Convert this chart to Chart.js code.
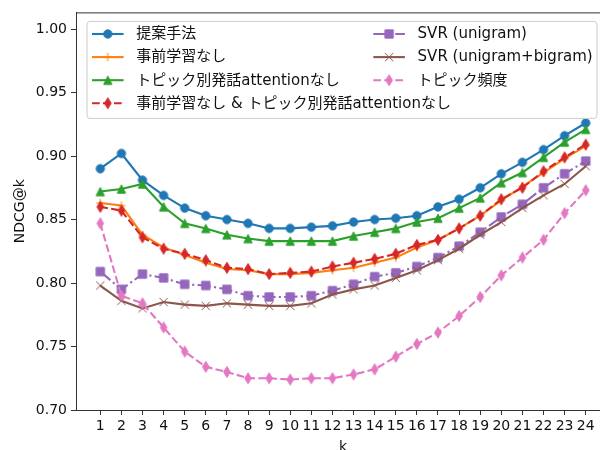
<!DOCTYPE html>
<html>
<head>
<meta charset="utf-8">
<script src="https://cdn.jsdelivr.net/npm/chart.js"></script>
<style>
  html, body { margin: 0; padding: 0; overflow: hidden; background: #fff; }
  #wrap { position: absolute; left: 0; top: 0; width: 620px; height: 460px; }
</style>
</head>
<body>
<div id="wrap"><canvas id="ndcgChart"></canvas></div>
<script>
// k values and tick labels
const ks = [1, 2, 3, 4, 5, 6, 7, 8, 9, 10, 11, 12, 13, 14, 15, 16, 17, 18, 19, 20, 21, 22, 23, 24];
const yTicks = [0.70, 0.75, 0.80, 0.85, 0.90, 0.95, 1.00];

// NDCG@k per method
const proposed = [0.890, 0.902, 0.881, 0.869, 0.859, 0.853, 0.850, 0.847, 0.843, 0.843, 0.844, 0.845,
                  0.848, 0.850, 0.851, 0.853, 0.860, 0.866, 0.875, 0.886, 0.895, 0.905, 0.916, 0.926];
const noPretrain = [0.863, 0.861, 0.838, 0.828, 0.822, 0.816, 0.811, 0.810, 0.807, 0.807, 0.808, 0.810,
                    0.812, 0.816, 0.820, 0.828, 0.834, 0.843, 0.853, 0.865, 0.876, 0.887, 0.898, 0.908];
const noAttention = [0.872, 0.874, 0.878, 0.860, 0.847, 0.843, 0.838, 0.835, 0.833, 0.833, 0.833, 0.833,
                     0.837, 0.840, 0.843, 0.848, 0.851, 0.859, 0.867, 0.879, 0.887, 0.899, 0.911, 0.921];
const noBoth = [0.860, 0.857, 0.836, 0.827, 0.823, 0.818, 0.812, 0.811, 0.807, 0.808, 0.809, 0.813,
                0.816, 0.819, 0.823, 0.830, 0.834, 0.843, 0.853, 0.866, 0.875, 0.888, 0.899, 0.909];
const svrUnigram = [0.809, 0.795, 0.807, 0.804, 0.799, 0.798, 0.795, 0.790, 0.789, 0.789, 0.790, 0.794,
                    0.799, 0.805, 0.808, 0.813, 0.820, 0.829, 0.840, 0.852, 0.862, 0.875, 0.886, 0.896];
const svrBigram = [0.798, 0.786, 0.780, 0.785, 0.783, 0.782, 0.784, 0.783, 0.782, 0.782, 0.784, 0.791,
                   0.795, 0.798, 0.804, 0.810, 0.818, 0.827, 0.838, 0.848, 0.859, 0.869, 0.878, 0.892];
const topicFreq = [0.847, 0.790, 0.784, 0.765, 0.746, 0.734, 0.730, 0.725, 0.725, 0.724, 0.725, 0.725,
                   0.728, 0.732, 0.742, 0.752, 0.761, 0.774, 0.789, 0.806, 0.820, 0.834, 0.855, 0.873];

const FONT = "'DejaVu Sans', 'Noto Sans CJK JP', sans-serif";
const DASHED = [7.7, 3.3];
const DASHDOT = [13.3, 3.3, 2.1, 3.3];

// matplotlib-like marker drawn into a small canvas (used as pointStyle and in the legend)
function makeMarker(kind, color) {
  const c = document.createElement("canvas");
  c.width = 12;
  c.height = kind === "thin" ? 14 : 12;
  const g = c.getContext("2d");
  const cx = c.width / 2, cy = c.height / 2, h = 4.15;
  g.fillStyle = color;
  g.strokeStyle = color;
  g.lineWidth = 1;
  g.beginPath();
  if (kind === "circle") {
    g.arc(cx, cy, h, 0, Math.PI * 2);
    g.fill();
  } else if (kind === "tri") {
    g.moveTo(cx, cy - h); g.lineTo(cx + h, cy + h); g.lineTo(cx - h, cy + h); g.closePath();
    g.fill();
  } else if (kind === "square") {
    g.rect(cx - h, cy - h, 2 * h, 2 * h);
    g.fill();
  } else if (kind === "thin") {
    g.moveTo(cx, cy - 5.5); g.lineTo(cx + 3.3, cy); g.lineTo(cx, cy + 5.5); g.lineTo(cx - 3.3, cy); g.closePath();
    g.fill();
  } else if (kind === "plus") {
    g.moveTo(cx - h, cy); g.lineTo(cx + h, cy); g.moveTo(cx, cy - h); g.lineTo(cx, cy + h);
  } else if (kind === "x") {
    g.moveTo(cx - h, cy - h); g.lineTo(cx + h, cy + h); g.moveTo(cx + h, cy - h); g.lineTo(cx - h, cy + h);
  }
  g.stroke();
  return c;
}

const series = [
  { label: "提案手法", data: proposed, color: "#1f77b4", marker: "circle", dash: [] },
  { label: "事前学習なし", data: noPretrain, color: "#ff7f0e", marker: "plus", dash: [] },
  { label: "トピック別発話attentionなし", data: noAttention, color: "#2ca02c", marker: "tri", dash: [] },
  { label: "事前学習なし & トピック別発話attentionなし", data: noBoth, color: "#d62728", marker: "thin", dash: DASHED },
  { label: "SVR (unigram)", data: svrUnigram, color: "#9467bd", marker: "square", dash: DASHDOT },
  { label: "SVR (unigram+bigram)", data: svrBigram, color: "#8c564b", marker: "x", dash: [] },
  { label: "トピック頻度", data: topicFreq, color: "#e377c2", marker: "thin", dash: DASHED },
];
series.forEach((s) => { s.img = makeMarker(s.marker, s.color); });

// top spine + matplotlib style legend
const framePlugin = {
  id: "frame",
  afterDatasetsDraw(chart) {
    const { ctx, chartArea: a } = chart;
    ctx.save();
    ctx.strokeStyle = "#333";
    ctx.lineWidth = 1;
    ctx.beginPath();
    ctx.moveTo(a.left, a.top + 0.5);
    ctx.lineTo(a.right, a.top + 0.5);
    ctx.moveTo(a.right - 0.5, a.top);
    ctx.lineTo(a.right - 0.5, a.bottom);
    ctx.stroke();

    // legend box
    const bx = a.left + 11, by = a.top + 9, bw = 510, bh = 97, r = 3;
    ctx.beginPath();
    ctx.moveTo(bx + r, by);
    ctx.arcTo(bx + bw, by, bx + bw, by + bh, r);
    ctx.arcTo(bx + bw, by + bh, bx, by + bh, r);
    ctx.arcTo(bx, by + bh, bx, by, r);
    ctx.arcTo(bx, by, bx + bw, by, r);
    ctx.closePath();
    ctx.fillStyle = "rgba(255,255,255,0.8)";
    ctx.fill();
    ctx.strokeStyle = "#cccccc";
    ctx.stroke();

    ctx.font = "15px " + FONT;
    ctx.textBaseline = "middle";
    ctx.fillStyle = "#111";
    series.forEach((s, i) => {
      const col = i < 4 ? 0 : 1;
      const row = i < 4 ? i : i - 4;
      const hx = bx + 5 + col * 281.3;
      const y = by + 12.6 + row * 23.1;
      ctx.strokeStyle = s.color;
      ctx.lineWidth = 2.1;
      ctx.setLineDash(s.dash);
      ctx.beginPath();
      ctx.moveTo(hx, y);
      ctx.lineTo(hx + 31.6, y);
      ctx.stroke();
      ctx.setLineDash([]);
      ctx.drawImage(s.img, hx + 15.8 - s.img.width / 2, y - s.img.height / 2);
      ctx.fillText(s.label, hx + 44.3, y + 0.5);
    });
    ctx.restore();
  },
};

const ctx = document.getElementById("ndcgChart").getContext("2d");
new Chart(ctx, {
  type: "line",
  data: {
    datasets: series.map((s, i) => ({
      label: s.label,
      data: ks.map((k, j) => ({ x: k, y: s.data[j] })),
      borderColor: s.color,
      backgroundColor: s.color,
      borderWidth: 2.1,
      borderDash: s.dash,
      pointStyle: s.img,
      pointRadius: 5,
      tension: 0,
      fill: false,
      order: series.length - 1 - i,
    })),
  },
  options: {
    responsive: true,
    maintainAspectRatio: false,
    animation: false,
    layout: { padding: { top: 12, right: 10, left: 0, bottom: 0 } },
    plugins: {
      legend: { display: false },
      tooltip: { enabled: false },
    },
    scales: {
      x: {
        type: "linear",
        min: -0.15,
        max: 25.15,
        afterFit(scale) { scale.height = 50; },
        afterBuildTicks(scale) { scale.ticks = ks.map((v) => ({ value: v })); },
        ticks: { autoSkip: false, maxRotation: 0, padding: 3, color: "#111", font: { size: 14, family: FONT } },
        grid: { drawOnChartArea: false, tickLength: 5, color: "#333" },
        border: { color: "#333", width: 1 },
        title: { display: true, text: "k", color: "#111", padding: { top: 0, bottom: 4 }, font: { size: 14, family: FONT } },
      },
      y: {
        min: 0.70,
        max: 1.0131,
        afterFit(scale) { scale.width = 76; },
        afterBuildTicks(scale) { scale.ticks = yTicks.map((v) => ({ value: v })); },
        ticks: { padding: 4, color: "#111", font: { size: 14, family: FONT }, callback: (v) => v.toFixed(2) },
        grid: { drawOnChartArea: false, tickLength: 5, color: "#333" },
        border: { color: "#333", width: 1 },
        title: { display: true, text: "NDCG@k", color: "#111", padding: { top: 11.6, bottom: 0 }, font: { size: 14, family: FONT } },
      },
    },
  },
  plugins: [framePlugin],
});
</script>
</body>
</html>
